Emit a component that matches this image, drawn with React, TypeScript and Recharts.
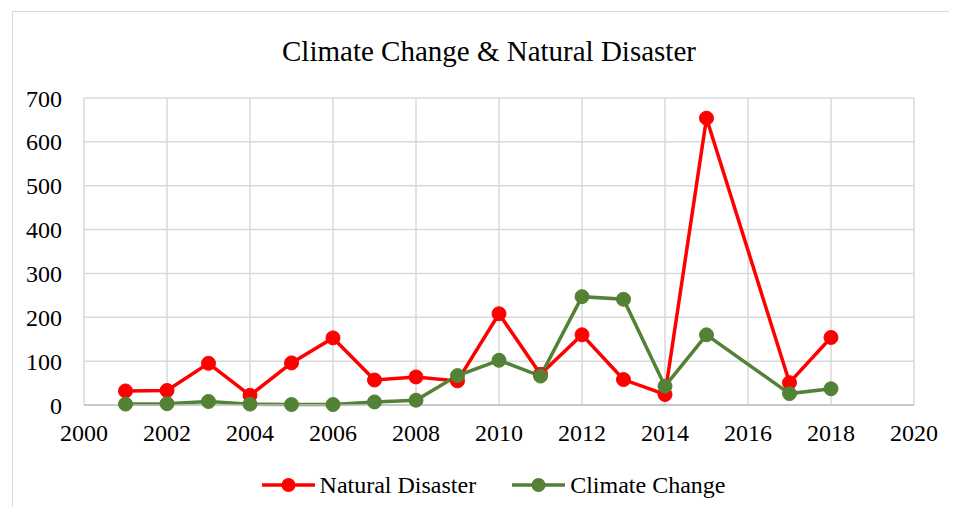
import { LineChart, Line, XAxis, YAxis, CartesianGrid, Legend } from "recharts";

// yearly article counts; 2016 has no entry in either series
const years = [2001, 2002, 2003, 2004, 2005, 2006, 2007, 2008, 2009, 2010, 2011, 2012, 2013, 2014, 2015, 2017, 2018];
const naturalDisaster = [32, 33, 95, 22, 96, 153, 57, 64, 55, 208, 70, 160, 58, 24, 654, 51, 154];
const climateChange = [2, 3, 8, 2, 1, 1, 7, 11, 67, 102, 66, 247, 241, 43, 160, 26, 37];

const xTicks = [2000, 2002, 2004, 2006, 2008, 2010, 2012, 2014, 2016, 2018, 2020];
const yTicks = [0, 100, 200, 300, 400, 500, 600, 700];

const RED = "#ff0000";
const GREEN = "#538135";
const FONT = '"Liberation Serif", "Times New Roman", serif';

const data = years.map((year, i) => ({
  year,
  natural: naturalDisaster[i],
  climate: climateChange[i],
}));

const legendItems = [
  { name: "Natural Disaster", color: RED },
  { name: "Climate Change", color: GREEN },
];

const LegendContent = () => (
  <div
    style={{
      display: "flex",
      justifyContent: "center",
      alignItems: "center",
      paddingLeft: 23,
      fontFamily: FONT,
      fontSize: 24,
      color: "#000",
      height: 30,
    }}
  >
    {legendItems.map((item, i) => (
      <div key={item.name} style={{ display: "flex", alignItems: "center", marginLeft: i === 0 ? 0 : 36 }}>
        <svg width={53} height={16} style={{ marginRight: 5 }}>
          <line x1={0} y1={8} x2={53} y2={8} stroke={item.color} strokeWidth={3.5} />
          <circle cx={26.5} cy={8} r={7} fill={item.color} />
        </svg>
        <span>{item.name}</span>
      </div>
    ))}
  </div>
);

const App = () => {
  return (
    <div
      style={{
        position: "relative",
        left: 4,
        top: 3,
        width: 938,
        height: 498,
        borderTop: "1px solid #d9d9d9",
        borderLeft: "1px solid #d9d9d9",
        background: "#fff",
      }}
    >
      <div
        style={{
          position: "absolute",
          left: 176,
          top: 25,
          width: 600,
          textAlign: "center",
          fontFamily: FONT,
          fontSize: 29,
          lineHeight: "29px",
          color: "#000",
        }}
      >
        Climate Change &amp; Natural Disaster
      </div>
      <LineChart width={938} height={498} data={data} margin={{ top: 86, right: 37, left: 0, bottom: 35 }}>
        <CartesianGrid stroke="#d9d9d9" strokeWidth={1.5} />
        <XAxis
          dataKey="year"
          type="number"
          domain={[2000, 2020]}
          ticks={xTicks}
          interval={0}
          tickLine={false}
          tickSize={0}
          tickMargin={19}
          axisLine={{ stroke: "#bfbfbf", strokeWidth: 1.5 }}
          height={40}
          tick={{ fill: "#000", fontSize: 24, fontFamily: FONT }}
        />
        <YAxis
          type="number"
          domain={[0, 700]}
          ticks={yTicks}
          interval={0}
          width={71}
          tickLine={false}
          tickSize={0}
          tickMargin={22}
          axisLine={false}
          tick={{ fill: "#000", fontSize: 24, fontFamily: FONT }}
        />
        <Legend
          verticalAlign="bottom"
          content={<LegendContent />}
          wrapperStyle={{ left: 0, width: 938, bottom: 10 }}
        />
        <Line
          dataKey="natural"
          name="Natural Disaster"
          stroke={RED}
          strokeWidth={3.5}
          dot={{ r: 7, fill: RED, stroke: RED, strokeWidth: 1 }}
          activeDot={false}
          isAnimationActive={false}
        />
        <Line
          dataKey="climate"
          name="Climate Change"
          stroke={GREEN}
          strokeWidth={3.5}
          dot={{ r: 7, fill: GREEN, stroke: GREEN, strokeWidth: 1 }}
          activeDot={false}
          isAnimationActive={false}
        />
      </LineChart>
    </div>
  );
};

export default App;
